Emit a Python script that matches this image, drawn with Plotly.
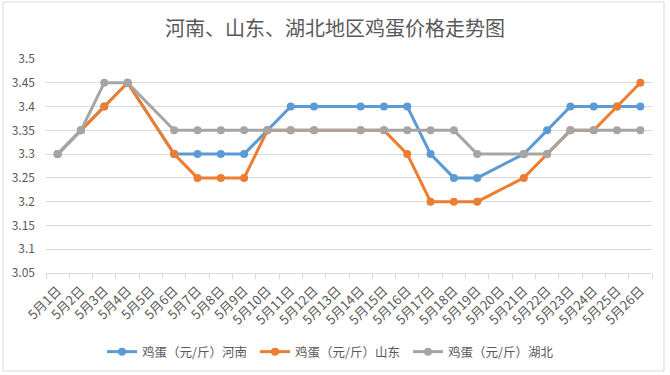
import plotly.graph_objects as go

dates = [f"5月{d}日" for d in range(1, 27)]
henan = [3.3, 3.35, 3.4, 3.45, None, 3.3, 3.3, 3.3, 3.3, 3.35, 3.4, 3.4, None,
         3.4, 3.4, 3.4, 3.3, 3.25, 3.25, None, 3.3, 3.35, 3.4, 3.4, 3.4, 3.4]
shandong = [3.3, 3.35, 3.4, 3.45, None, 3.3, 3.25, 3.25, 3.25, 3.35, 3.35, 3.35, None,
            3.35, 3.35, 3.3, 3.2, 3.2, 3.2, None, 3.25, 3.3, 3.35, 3.35, 3.4, 3.45]
hubei = [3.3, 3.35, 3.45, 3.45, None, 3.35, 3.35, 3.35, 3.35, 3.35, 3.35, 3.35, None,
         3.35, 3.35, 3.35, 3.35, 3.35, 3.3, None, 3.3, 3.3, 3.35, 3.35, 3.35, 3.35]
series_names = ["鸡蛋（元/斤）河南", "鸡蛋（元/斤）山东", "鸡蛋（元/斤）湖北"]
colors = ["#5B9BD5", "#ED7D31", "#A5A5A5"]
y_ticks = [3.05, 3.1, 3.15, 3.2, 3.25, 3.3, 3.35, 3.4, 3.45, 3.5]
title_text = "河南、山东、湖北地区鸡蛋价格走势图"

FONT = "Noto Sans CJK SC"
W, H = 670, 375
ML, MR, MT, MB = 46, 18, 59, 102

fig = go.Figure()
for name, vals, col in zip(series_names, [henan, shandong, hubei], colors):
    fig.add_trace(go.Scatter(
        x=dates, y=vals, name=name, mode="lines+markers",
        connectgaps=True,
        line=dict(color=col, width=3),
        marker=dict(color=col, size=8),
    ))

pw = W - ML - MR
ph = H - MT - MB
fig.add_shape(type="rect", xref="paper", yref="paper",
              x0=(3 - ML) / pw, x1=(664 - ML) / pw,
              y0=(H - MB - 371) / ph, y1=(H - MB - 2) / ph,
              line=dict(color="#D9D9D9", width=1), layer="below")

fig.update_layout(
    width=W, height=H,
    margin=dict(l=ML, r=MR, t=MT, b=MB, autoexpand=False),
    paper_bgcolor="white", plot_bgcolor="white",
    font=dict(family=FONT, color="#595959", size=12),
    title=dict(text=title_text, x=0.5, xanchor="center", y=1 - 29 / H, yanchor="middle",
               font=dict(family=FONT, size=20, color="#595959")),
    showlegend=True,
    legend=dict(orientation="h", x=(102 - ML) / pw, xanchor="left", y=(H - MB - 352) / ph, yanchor="middle",
                font=dict(size=12.5, color="#595959"), itemwidth=30, traceorder="normal",
                entrywidth=108, entrywidthmode="pixels"),
    xaxis=dict(type="category", categoryorder="array", categoryarray=dates,
               range=[-0.5, len(dates) - 0.5],
               showgrid=False, showline=True, linecolor="#D9D9D9", linewidth=1,
               ticks="outside", ticklen=5, tickcolor="#D9D9D9", tickson="boundaries",
               tickangle=-45, tickfont=dict(size=13, color="#595959"),
               ticklabelstandoff=4, automargin=False, zeroline=False),
    yaxis=dict(range=[3.05, 3.5], tickvals=y_ticks, ticktext=[f"{v:g}" for v in y_ticks],
               showgrid=True, gridcolor="#D9D9D9", gridwidth=1, showline=False,
               zeroline=False, ticks="", tickfont=dict(size=12, color="#595959"),
               ticklabelstandoff=10, automargin=False),
)

fig.write_html("out.html", config={"displayModeBar": False},
               post_script="document.body.style.margin='0';")
